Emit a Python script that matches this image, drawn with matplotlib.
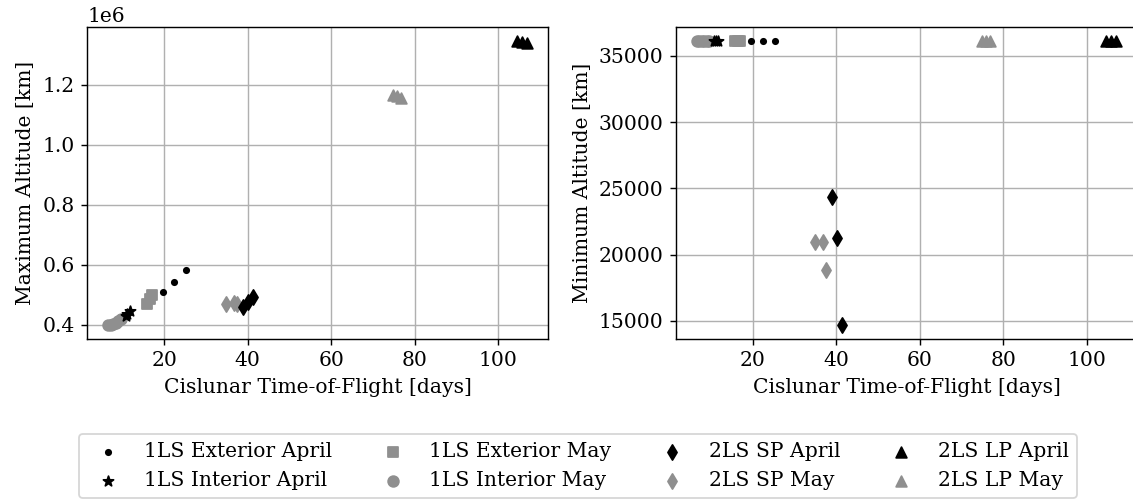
import matplotlib
matplotlib.use("Agg")
import matplotlib.pyplot as plt

plt.rcParams.update({
    "font.family": "serif",
    "font.serif": ["DejaVu Serif"],
    "font.size": 11.4,
})

GRAY = "#8f8f8f"

# ---- data (time of flight [days], max altitude [km], min altitude [km]) ----
ext_apr_tof = [19.6, 22.4, 25.3]
ext_apr_max = [0.511e6, 0.542e6, 0.582e6]
ext_apr_min = [36090, 36090, 36090]

int_apr_tof = [10.8, 11.2, 11.7]
int_apr_max = [0.428e6, 0.437e6, 0.445e6]
int_apr_min = [36090, 36090, 36090]

ext_may_tof = [15.8, 16.5, 17.0]
ext_may_max = [0.468e6, 0.485e6, 0.500e6]
ext_may_min = [36090, 36090, 36090]

int_may_tof = [6.6, 7.2, 7.8, 8.4, 9.0, 9.6]
int_may_max = [0.400e6, 0.401e6, 0.403e6, 0.406e6, 0.412e6, 0.418e6]
int_may_min = [36090, 36090, 36090, 36090, 36090, 36090]

sp_apr_tof = [38.9, 40.1, 41.3]
sp_apr_max = [0.458e6, 0.477e6, 0.494e6]
sp_apr_min = [24330, 21220, 14700]

sp_may_tof = [34.9, 36.8, 37.5]
sp_may_max = [0.470e6, 0.472e6, 0.468e6]
sp_may_min = [20960, 20960, 18870]

lp_apr_tof = [104.5, 105.8, 107.0]
lp_apr_max = [1.345e6, 1.343e6, 1.341e6]
lp_apr_min = [36090, 36090, 36090]

lp_may_tof = [74.8, 75.8, 76.8]
lp_may_max = [1.168e6, 1.162e6, 1.155e6]
lp_may_min = [36090, 36090, 36090]

# May series first so the black April markers sit on top
series = [
    ("1LS Exterior May", ext_may_tof, ext_may_max, ext_may_min, "s", GRAY),
    ("1LS Interior May", int_may_tof, int_may_max, int_may_min, "o", GRAY),
    ("2LS SP May",       sp_may_tof,  sp_may_max,  sp_may_min,  "d", GRAY),
    ("2LS LP May",       lp_may_tof,  lp_may_max,  lp_may_min,  "^", GRAY),
    ("1LS Exterior April", ext_apr_tof, ext_apr_max, ext_apr_min, ".", "black"),
    ("1LS Interior April", int_apr_tof, int_apr_max, int_apr_min, "*", "black"),
    ("2LS SP April",       sp_apr_tof,  sp_apr_max,  sp_apr_min,  "d", "black"),
    ("2LS LP April",       lp_apr_tof,  lp_apr_max,  lp_apr_min,  "^", "black"),
]
legend_order = [
    "1LS Exterior April", "1LS Interior April",
    "1LS Exterior May", "1LS Interior May",
    "2LS SP April", "2LS SP May",
    "2LS LP April", "2LS LP May",
]

W, H = 1133, 499
fig = plt.figure(figsize=(W / 128, H / 128), dpi=128)
ax1 = fig.add_axes([87.3 / W, 1 - 339 / H, 461 / W, 311.7 / H])
ax2 = fig.add_axes([676 / W, 1 - 339 / H, 461 / W, 311.7 / H])

handles = {}
for name, tof, amax, amin, mk, col in series:
    h = ax1.scatter(tof, amax, marker=mk, color=col, label=name)
    ax2.scatter(tof, amin, marker=mk, color=col)
    handles[name] = h

for ax in (ax1, ax2):
    ax.grid(True)
    ax.set_axisbelow(True)
    ax.set_xlabel("Cislunar Time-of-Flight [days]")
ax1.set_ylabel("Maximum Altitude [km]")
ax2.set_ylabel("Minimum Altitude [km]")

fig.legend([handles[n] for n in legend_order], legend_order,
           loc="upper center", bbox_to_anchor=(578 / W, 1 - 424 / H), ncol=4)

fig.savefig("out.png", dpi=128)
